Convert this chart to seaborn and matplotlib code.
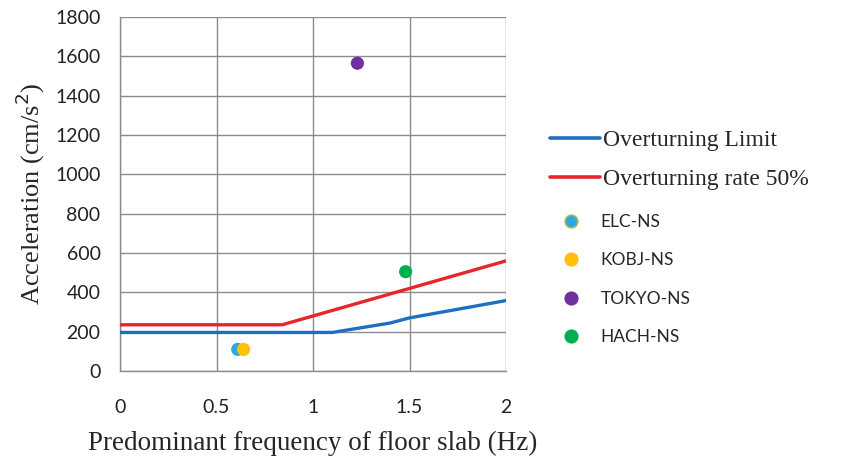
import matplotlib
matplotlib.use("Agg")
import matplotlib.pyplot as plt
import seaborn as sns
import pandas as pd
from matplotlib.lines import Line2D

# Data
limit_freq = [0.0, 1.10, 1.40, 1.50, 2.0]
limit_acc = [196, 196, 244, 270, 358]
rate50_freq = [0.0, 0.84, 2.0]
rate50_acc = [235, 235, 560]

quake_names = ["ELC-NS", "KOBJ-NS", "TOKYO-NS", "HACH-NS"]
quake_freq = [0.61, 0.64, 1.23, 1.48]
quake_acc = [110, 110, 1565, 505]
quake_colors = ["#2EA8DF", "#FFC000", "#7030A0", "#00B050"]

xticks = [0, 0.5, 1, 1.5, 2]
xtick_labels = ["0", "0.5", "1", "1.5", "2"]
yticks = list(range(0, 2000, 200))

sns.set_theme(style="white")
plt.rcParams['font.family'] = ['Lato', 'DejaVu Sans']

fig = plt.figure(figsize=(8.42, 4.63), dpi=100)
ax = fig.add_axes([120 / 842, 92 / 463, 386 / 842, 354 / 463])

df_lim = pd.DataFrame({"f": limit_freq, "a": limit_acc})
df_r50 = pd.DataFrame({"f": rate50_freq, "a": rate50_acc})
sns.lineplot(data=df_lim, x="f", y="a", ax=ax, color="#1F6FC0", lw=2.4, zorder=3)
sns.lineplot(data=df_r50, x="f", y="a", ax=ax, color="#E8262A", lw=2.4, zorder=3)

df_q = pd.DataFrame({"name": quake_names, "f": quake_freq, "a": quake_acc})
sns.scatterplot(data=df_q, x="f", y="a", hue="name", palette=quake_colors,
                s=90, edgecolor="none", ax=ax, legend=False, zorder=4)

ax.set_xlim(0, 2)
ax.set_ylim(0, 1800)
ax.set_xticks(xticks)
ax.set_xticklabels(xtick_labels)
ax.set_yticks(yticks)
ax.grid(True, color="#8C8C8C", lw=1.0)
for s in ["top", "right"]:
    ax.spines[s].set_visible(False)
for s in ["left", "bottom"]:
    ax.spines[s].set_color("#8C8C8C")
    ax.spines[s].set_linewidth(1.0)
ax.tick_params(axis="both", length=0, labelsize=14, colors="#222222")
ax.tick_params(axis="x", pad=20)
ax.tick_params(axis="y", pad=14)

ax.set_xlabel("Predominant frequency of floor slab (Hz)", family="Liberation Serif",
              fontsize=19.5, labelpad=11)
ax.set_ylabel("Acceleration (cm/s$^2$)", family="Liberation Serif", fontsize=19, labelpad=6)

# Legends
line_handles = [Line2D([0], [0], color="#1F6FC0", lw=2.6),
                Line2D([0], [0], color="#E8262A", lw=2.6)]
leg1 = fig.legend(line_handles, ["Overturning Limit", "Overturning rate 50%"],
                  loc="upper left", bbox_to_anchor=(529 / 842, 1 - 108 / 463),
                  frameon=False, handlelength=2.1, handletextpad=0.15,
                  labelspacing=0.75, prop={"family": "Liberation Serif", "size": 17})

mk_handles = [Line2D([0], [0], marker="o", ls="none", markersize=9,
                     markerfacecolor=c, markeredgecolor=("#9BBB59" if i == 0 else c),
                     markeredgewidth=1.2)
              for i, c in enumerate(quake_colors)]
leg2 = fig.legend(mk_handles, quake_names, loc="upper left",
                  bbox_to_anchor=(545 / 842, 1 - 198 / 463),
                  frameon=False, handlelength=1.2, handletextpad=1.1,
                  labelspacing=1.3, prop={"family": "Lato", "size": 12.5})

fig.savefig("out.png", dpi=100)
